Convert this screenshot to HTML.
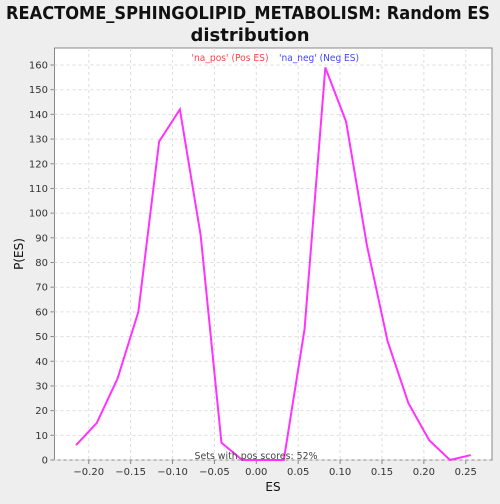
<!DOCTYPE html>
<html><head><meta charset="utf-8"><style>
body{margin:0;background:#eeeeee;font-family:"DejaVu Sans","Liberation Sans",sans-serif;}
</style></head><body>
<svg width="500" height="500" xmlns="http://www.w3.org/2000/svg">
<rect width="500" height="500" fill="#eeeeee"/>
<text x="248" y="19" text-anchor="middle" font-size="18" font-weight="bold" fill="#111" textLength="484" lengthAdjust="spacingAndGlyphs">REACTOME_SPHINGOLIPID_METABOLISM: Random ES</text>
<text x="250" y="41" text-anchor="middle" font-size="18" font-weight="bold" fill="#111">distribution</text>
<rect x="54.5" y="48" width="437.5" height="412" fill="#fff" stroke="#888"/>
<g id="grid"></g><g id="ticks"></g>
<text x="230" y="61" text-anchor="middle" font-size="10" fill="#ff4444" textLength="77" lengthAdjust="spacingAndGlyphs">'na_pos' (Pos ES)</text>
<text x="319" y="61" text-anchor="middle" font-size="10" fill="#4444ff" textLength="80" lengthAdjust="spacingAndGlyphs">'na_neg' (Neg ES)</text>
<polyline id="line" fill="none" stroke="#ff33ff" stroke-width="2"/>
<text x="256" y="459" text-anchor="middle" font-size="10" fill="#444" textLength="123" lengthAdjust="spacingAndGlyphs">Sets with pos scores: 52%</text>
<text x="273" y="491" text-anchor="middle" font-size="12" fill="#111">ES</text>
<text x="23" y="254" text-anchor="middle" font-size="12" fill="#111" transform="rotate(-90 23 254)">P(ES)</text>
</svg>
<script>
const esValues=[-0.2152,-0.1904,-0.1656,-0.1408,-0.116,-0.0912,-0.0664,-0.0416,-0.0168,0.008,0.0328,0.0576,0.0824,0.1072,0.132,0.1568,0.1816,0.2064,0.2312,0.256];
const pValues=[6,15,33,60,129,142,91,7,0,0,0,53,159,137,87,48,23,8,0,2];
const xTicks=[-0.2,-0.15,-0.1,-0.05,0,0.05,0.1,0.15,0.2,0.25];
const yTicks=[0,10,20,30,40,50,60,70,80,90,100,110,120,130,140,150,160];
const NS="http://www.w3.org/2000/svg";
const sx=v=>256.3+v*837.8, sy=v=>460-v*(395/160);
const grid=document.getElementById('grid'), ticks=document.getElementById('ticks');
function mk(tag,attrs,parent,txt){const e=document.createElementNS(NS,tag);for(const k in attrs)e.setAttribute(k,attrs[k]);if(txt!==undefined)e.textContent=txt;parent.appendChild(e);return e;}
xTicks.forEach(t=>{const x=sx(t);
 const g=mk('line',{x1:x,x2:x,y1:48,y2:460,stroke:'#ddd','stroke-dasharray':'3,3'},grid);
 
 
 mk('line',{x1:x,x2:x,y1:460,y2:464,stroke:'#888'},ticks);
 const l=mk('text',{x:x,y:475,'text-anchor':'middle','font-size':'10',fill:'#333'},ticks,(t<0?'\u2212':'')+Math.abs(t).toFixed(2));
 
 
});
yTicks.forEach(t=>{const y=sy(t);
 const g=mk('line',{x1:54.5,x2:492,y1:y,y2:y,stroke:'#ddd','stroke-dasharray':'3,3'},grid);
 
 
 mk('line',{x1:50.5,x2:54.5,y1:y,y2:y,stroke:'#888'},ticks);
 const l=mk('text',{x:48,y:y+3.5,'text-anchor':'end','font-size':'10',fill:'#333'},ticks,String(t));
 
 
});
document.getElementById('line').setAttribute('points',esValues.map((v,i)=>sx(v)+','+sy(pValues[i])).join(' '));
</script>
</body></html>
